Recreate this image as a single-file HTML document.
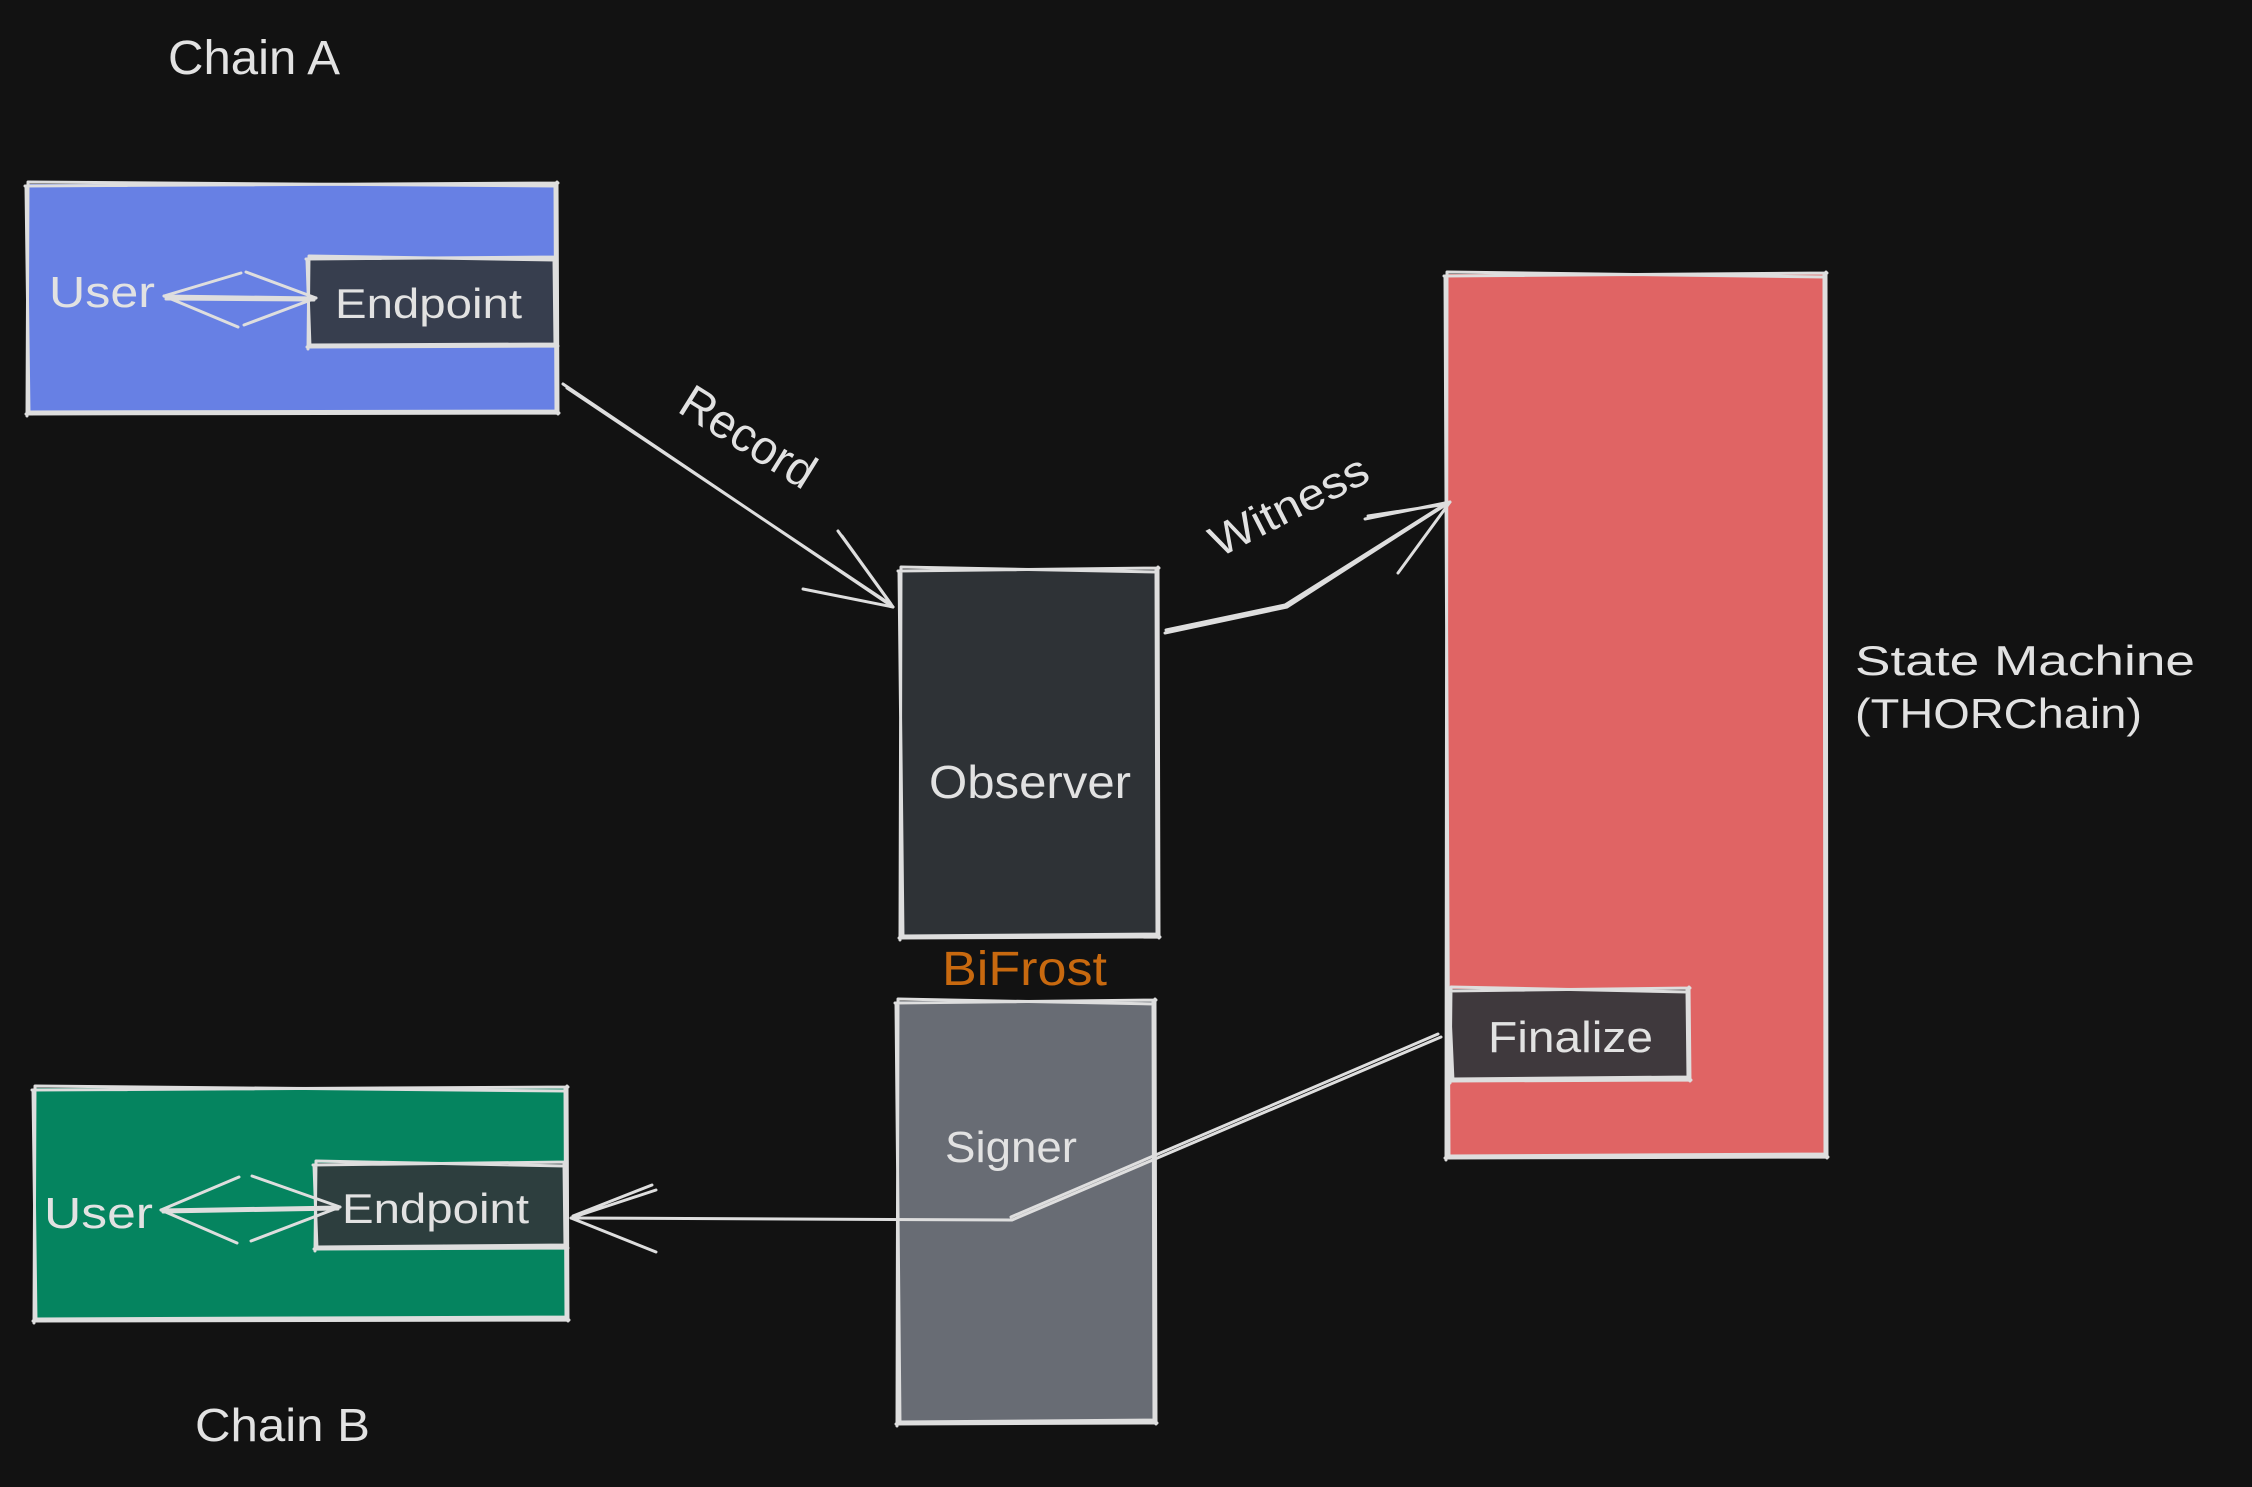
<!DOCTYPE html>
<html>
<head>
<meta charset="utf-8">
<style>
  html, body { margin: 0; padding: 0; background: #121212; }
  svg { display: block; }
  text { font-family: "Liberation Sans", "DejaVu Sans", sans-serif; fill: #e2e2e2; }
</style>
</head>
<body>
<svg width="2252" height="1487" viewBox="0 0 2252 1487" xmlns="http://www.w3.org/2000/svg">
  <rect x="0" y="0" width="2252" height="1487" fill="#121212"/>

  <g stroke="#dedede" stroke-width="3" fill="none" stroke-linecap="round" stroke-linejoin="round">
    <!-- Blue Chain A box -->
    <rect x="27" y="184" width="530" height="229" fill="#6780e4" stroke="none"/>
    <path d="M25 186 L558 183 M28 182 L556 186 M557 182 L558 414 M555 185 L556 411 M559 413 L26 414 M556 411 L28 412 M27 416 L28 182 M29 414 L26 186"/>

    <!-- Endpoint A -->
    <rect x="308" y="258" width="248" height="88" fill="#373e4e" stroke="none"/>
    <path d="M306 259 L557 257 M309 256 L555 260 M556 256 L557 347 M554 259 L555 345 M558 346 L307 347 M555 344 L309 345 M308 349 L309 256 M310 347 L307 260"/>

    <!-- Observer -->
    <rect x="900" y="569" width="258" height="368" fill="#2e3236" stroke="none"/>
    <path d="M898 571 L1159 568 M901 567 L1157 572 M1158 567 L1159 938 M1156 570 L1157 935 M1160 937 L899 938 M1157 934 L902 936 M900 940 L901 567 M903 938 L899 571"/>

    <!-- Signer -->
    <rect x="897" y="1001" width="258" height="422" fill="#686c74" stroke="none"/>
    <path d="M895 1003 L1156 1000 M898 999 L1154 1004 M1155 999 L1156 1424 M1153 1002 L1154 1421 M1157 1423 L896 1424 M1154 1420 L899 1422 M897 1426 L898 999 M900 1424 L896 1003"/>

    <!-- Red state machine -->
    <rect x="1446" y="274" width="380" height="883" fill="#e06464" stroke="none"/>
    <path d="M1444 276 L1827 273 M1447 272 L1825 277 M1826 272 L1827 1158 M1824 275 L1825 1155 M1828 1157 L1445 1158 M1825 1154 L1448 1156 M1446 1160 L1447 272 M1449 1158 L1445 276"/>

    <!-- Finalize -->
    <rect x="1450" y="989" width="239" height="91" fill="#3f393d" stroke="none"/>
    <path d="M1448 991 L1690 988 M1451 987 L1688 992 M1689 987 L1690 1081 M1687 990 L1688 1078 M1691 1080 L1449 1081 M1688 1077 L1452 1079 M1450 1083 L1451 987 M1453 1081 L1449 991"/>

    <!-- Green Chain B box -->
    <rect x="34" y="1088" width="533" height="232" fill="#05845f" stroke="none"/>
    <path d="M32 1090 L568 1087 M35 1086 L566 1091 M567 1086 L568 1321 M565 1089 L566 1318 M569 1320 L33 1321 M566 1317 L36 1319 M34 1323 L35 1086 M36 1321 L33 1090"/>

    <!-- Endpoint B -->
    <rect x="315" y="1163" width="251" height="85" fill="#2d3e3e" stroke="none"/>
    <path d="M313 1165 L567 1162 M316 1161 L565 1166 M566 1161 L567 1249 M564 1164 L565 1246 M568 1248 L314 1249 M565 1245 L317 1247 M315 1251 L316 1161 M317 1249 L314 1165"/>

    <!-- Record arrow -->
    <path d="M563 384 L893 607 M567 388 L890 604"/>
    <path d="M838 531 L893 607 L803 589 M842 536 L891 604"/>

    <!-- Witness arrow -->
    <path d="M1165 633 L1287 607 L1450 502 M1166 630 L1285 605 L1447 503"/>
    <path d="M1365 519 L1450 502 L1398 573 M1368 516 L1447 504"/>

    <!-- Finalize -> Signer -> Endpoint B -->
    <path d="M1441 1037 L1012 1220 L571 1218 M1438 1034 L1011 1217"/>
    <path d="M656 1190 L571 1218 L656 1252 M652 1185 L573 1216"/>

    <!-- User A <-> Endpoint A -->
    <path d="M164 296 L316 298 M166 299 L314 300"/>
    <path d="M241 273 L164 296 L238 327 M246 272 L316 298 L244 325"/>

    <!-- User B <-> Endpoint B -->
    <path d="M161 1210 L340 1207 M163 1212 L338 1209"/>
    <path d="M239 1177 L161 1210 L237 1243 M252 1176 L340 1207 L251 1241"/>
  </g>

  <!-- Labels -->
  <text x="168" y="74" font-size="48" textLength="172" lengthAdjust="spacingAndGlyphs">Chain A</text>
  <text x="49" y="307" font-size="44" textLength="106" lengthAdjust="spacingAndGlyphs">User</text>
  <text x="335" y="318" font-size="42" textLength="187" lengthAdjust="spacingAndGlyphs">Endpoint</text>

  <text transform="translate(676,411) rotate(32)" x="0" y="0" font-size="48" textLength="150" lengthAdjust="spacingAndGlyphs">Record</text>

  <text x="929" y="798" font-size="46" textLength="202" lengthAdjust="spacingAndGlyphs">Observer</text>
  <text x="942" y="985" font-size="48" textLength="165" lengthAdjust="spacingAndGlyphs" style="fill:#c8690f">BiFrost</text>
  <text x="945" y="1162" font-size="44" textLength="132" lengthAdjust="spacingAndGlyphs">Signer</text>

  <text transform="translate(1219,558) rotate(-27)" x="0" y="0" font-size="44" textLength="172" lengthAdjust="spacingAndGlyphs">Witness</text>

  <text x="1855" y="675" font-size="42" textLength="340" lengthAdjust="spacingAndGlyphs">State Machine</text>
  <text x="1855" y="728" font-size="42" textLength="287" lengthAdjust="spacingAndGlyphs">(THORChain)</text>

  <text x="1488" y="1052" font-size="44" textLength="165" lengthAdjust="spacingAndGlyphs">Finalize</text>

  <text x="44" y="1228" font-size="44" textLength="109" lengthAdjust="spacingAndGlyphs">User</text>
  <text x="342" y="1223" font-size="42" textLength="187" lengthAdjust="spacingAndGlyphs">Endpoint</text>
  <text x="195" y="1441" font-size="46" textLength="175" lengthAdjust="spacingAndGlyphs">Chain B</text>
</svg>
</body>
</html>
